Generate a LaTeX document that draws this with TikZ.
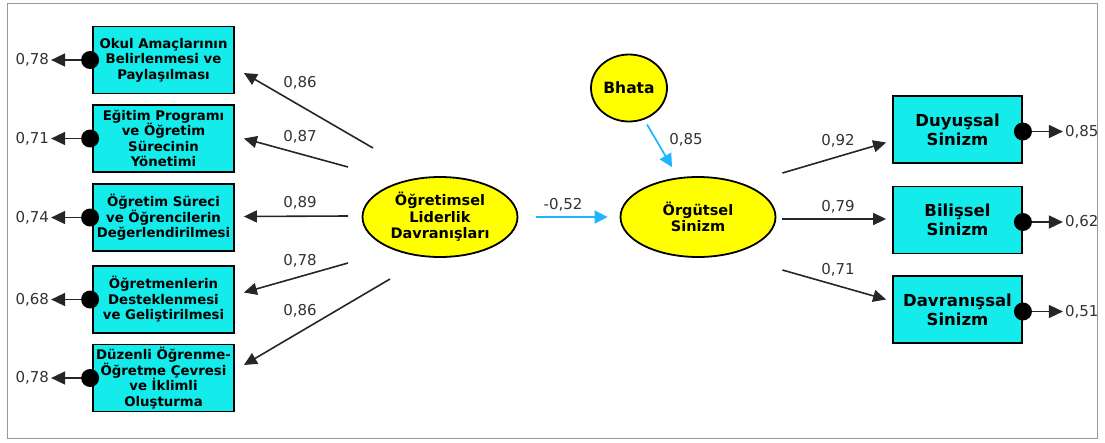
\documentclass[tikz,border=0pt]{standalone}
\usepackage{fontspec}
\setmainfont{DejaVu Sans}
\usetikzlibrary{arrows.meta}
\usetikzlibrary{shapes.geometric}
\definecolor{kutu}{RGB}{20,235,235}
\definecolor{sari}{RGB}{255,255,0}
\definecolor{mavi}{RGB}{30,180,255}
\definecolor{yazi}{RGB}{50,50,50}

\begin{document}
\begin{tikzpicture}[x=1pt, y=-1pt,
    gosterge/.style={rectangle, draw, line width=1.8pt, fill=kutu, align=center,
      minimum width=141pt, minimum height=67pt, inner sep=0pt,
      font=\bfseries\fontsize{13.3}{15.5}\selectfont},
    sinizmkutu/.style={gosterge, minimum width=129pt,
      font=\bfseries\fontsize{16.5}{19}\selectfont},
    gizil/.style={ellipse, draw, line width=1.8pt, fill=sari, align=center,
      minimum width=155pt, minimum height=80pt, inner sep=0pt,
      font=\bfseries\fontsize{14.5}{16.5}\selectfont},
    nokta/.style={circle, fill=black, minimum size=18pt, inner sep=0pt},
    deger/.style={text=yazi, font=\fontsize{15}{17}\selectfont, inner sep=2pt},
    yol/.style={-{Triangle[length=13pt,width=12pt]}, line width=1.6pt, draw=black!85},
    hata/.style={-{Triangle[length=14pt,width=13pt]}, line width=1.6pt, draw=black!85},
    etki/.style={-{Triangle[length=13pt,width=13pt]}, line width=1.7pt, draw=mavi}
  ]
  \useasboundingbox (0,0) rectangle (1105,442);
  \draw[gray!80, line width=1pt] (7,3) rectangle (1097,438);

  % gizil degiskenler
  \node[gizil] (lider) at (440,217) {Öğretimsel\\Liderlik\\Davranışları};
  \node[gizil] (sinizm) at (698,217) {Örgütsel\\Sinizm};
  \node[gizil, minimum width=76pt, minimum height=67pt, font=\bfseries\fontsize{15.5}{17}\selectfont] (bhata) at (629,88) {Bhata};

  % sol gostergeler
  \node[gosterge] (okul) at (163.5,60) {Okul Amaçlarının\\Belirlenmesi ve\\Paylaşılması};
  \node[gosterge] (program) at (163.5,138.5) {Eğitim Programı\\ve Öğretim\\Sürecinin\\Yönetimi};
  \node[gosterge] (surec) at (163.5,217.5) {Öğretim Süreci\\ve Öğrencilerin\\Değerlendirilmesi};
  \node[gosterge] (ogretmen) at (163.5,299.5) {Öğretmenlerin\\Desteklenmesi\\ve Geliştirilmesi};
  \node[gosterge] (iklim) at (163.5,378) {Düzenli Öğrenme-\\Öğretme Çevresi\\ve İklimli\\Oluşturma};

  % sag gostergeler
  \node[sinizmkutu] (duyussal) at (957.5,129.5) {Duyuşsal\\Sinizm};
  \node[sinizmkutu] (bilissel) at (957.5,220) {Bilişsel\\Sinizm};
  \node[sinizmkutu] (davranissal) at (957.5,309.5) {Davranışsal\\Sinizm};

  % hata terimleri
  \foreach \k/\h in {okul/{0,78}, program/{0,71}, surec/{0,74}, ogretmen/{0,68}, iklim/{0,78}} {
    \node[nokta] (n-\k) at ([xshift=-2pt]\k.west) {};
    \node[deger, anchor=east] (h-\k) at ([xshift=-41pt]\k.west) {\h};
    \draw[hata] (n-\k) -- (h-\k);
  }
  \foreach \k/\h in {duyussal/{0,85}, bilissel/{0,62}, davranissal/{0,51}} {
    \node[nokta] (n-\k) at ([yshift=-2pt]\k.east) {};
    \node[deger, anchor=west] (h-\k) at ([xshift=40pt]n-\k.center) {\h};
    \draw[hata] (n-\k) -- (h-\k);
  }

  % yollar
  \draw[yol] ([shift={(-67,-69)}]lider.center) -- ([shift={(9,13)}]okul.east);
  \draw[yol] ([shift={(-92,-50)}]lider.center) -- ([shift={(9,0)}]program.east);
  \draw[yol] ([shift={(-92,-1)}]lider.center) -- ([shift={(9,-1)}]surec.east);
  \draw[yol] ([shift={(-92,46)}]lider.center) -- ([shift={(9,-7)}]ogretmen.east);
  \draw[yol] ([shift={(-50,62)}]lider.center) -- ([shift={(9,-13)}]iklim.east);

  \draw[yol] ([shift={(6,-44)}]sinizm.east) -- ([shift={(-6,13)}]duyussal.west);
  \draw[yol] ([shift={(6,2)}]sinizm.east) -- ([shift={(-6,-1)}]bilissel.west);
  \draw[yol] ([shift={(6,53)}]sinizm.east) -- ([shift={(-6,-10)}]davranissal.west);

  \draw[etki] ([xshift=18pt]lider.east) -- ([xshift=-12pt]sinizm.west);
  \draw[etki] ([shift={(18,2)}]bhata.south) -- ([shift={(-26,-9)}]sinizm.north);

  % katsayilar
  \node[deger] (k1) at (300,83) {0,86};
  \node[deger] (k2) at (300,137) {0,87};
  \node[deger] (k3) at (300,203) {0,89};
  \node[deger] (k4) at (300,261) {0,78};
  \node[deger] (k5) at (300,311) {0,86};
  \node[deger] (k6) at (838,141) {0,92};
  \node[deger] (k7) at (838,207) {0,79};
  \node[deger] (k8) at (838,270) {0,71};
  \node[deger] (k9) at (563,205) {-0,52};
  \node[deger] (k10) at (686,140) {0,85};
\end{tikzpicture}
\end{document}
